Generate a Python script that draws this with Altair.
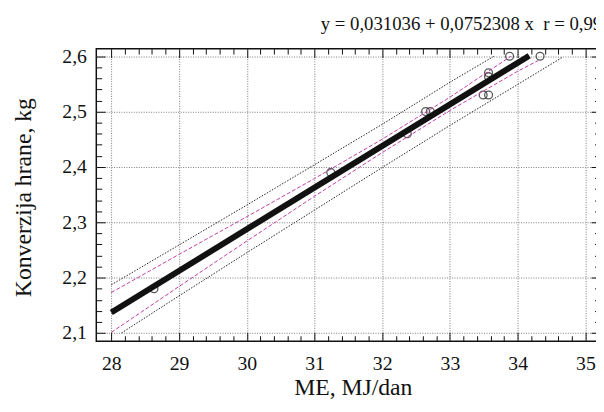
import altair as alt
import pandas as pd

FONT = "Liberation Serif"

# ---- data ----
pt_x = [28.63, 31.24, 32.37, 32.64, 32.71, 33.49, 33.57, 33.57, 33.57, 33.88, 34.33]
pt_y = [2.18, 2.39, 2.46, 2.50, 2.50, 2.53, 2.53, 2.57, 2.563, 2.60, 2.60]

fit_x = [28.0, 34.17]
fit_y = [2.137, 2.601]

conf_up_x = [28.0, 29.0, 30.0, 31.0, 32.0, 33.0, 33.9]
conf_up_y = [2.173, 2.242, 2.310, 2.379, 2.450, 2.526, 2.600]
conf_lo_x = [28.0, 29.0, 30.0, 31.0, 32.0, 33.0, 34.0, 34.3]
conf_lo_y = [2.101, 2.184, 2.266, 2.347, 2.426, 2.502, 2.573, 2.592]

pred_up_x = [28.0, 29.0, 30.0, 31.0, 32.0, 33.0, 33.65]
pred_up_y = [2.187, 2.259, 2.331, 2.404, 2.477, 2.553, 2.600]
pred_lo_x = [28.15, 29.0, 30.0, 31.0, 32.0, 33.0, 34.0, 34.66]
pred_lo_y = [2.100, 2.167, 2.245, 2.322, 2.399, 2.475, 2.549, 2.598]

x_major = [28, 29, 30, 31, 32, 33, 34, 35]
x_minor = [round(28 + 0.2 * i, 1) for i in range(36) if i % 5]
y_major = [2.1, 2.2, 2.3, 2.4, 2.5, 2.6]
y_minor = [round(2.1 + 0.02 * i, 2) for i in range(26) if i % 5]

title_text = "y = 0,031036 + 0,0752308 x\u00a0\u00a0r = 0,99334"
x_title = "ME, MJ/dan"
y_title = "Konverzija hrane, kg"

# ---- tables ----
points = pd.DataFrame({"x": pt_x, "y": pt_y})
fit = pd.DataFrame({"x": fit_x, "y": fit_y})
conf = pd.concat([
    pd.DataFrame({"x": conf_up_x, "y": conf_up_y, "part": "upper"}),
    pd.DataFrame({"x": conf_lo_x, "y": conf_lo_y, "part": "lower"}),
])
pred = pd.concat([
    pd.DataFrame({"x": pred_up_x, "y": pred_up_y, "part": "upper"}),
    pd.DataFrame({"x": pred_lo_x, "y": pred_lo_y, "part": "lower"}),
])

x_scale = alt.Scale(domain=[27.7786, 35.2141], nice=False, zero=False)
y_scale = alt.Scale(domain=[2.0852, 2.6137], nice=False, zero=False)

TICK = "#111111"
MAJ, MIN = 9, 5.5


def tick_axis(orient, values, size):
    return alt.Axis(orient=orient, values=values, offset=-size, tickSize=size,
                    tickColor=TICK, tickWidth=1, domain=False, grid=False,
                    labels=False, title=None)


ax_bottom = alt.Axis(
    orient="bottom", values=x_major, offset=-MAJ, tickSize=MAJ, tickColor=TICK,
    tickWidth=1, domain=False, grid=True, gridColor="#7a7a7a", gridDash=[1, 1.5],
    gridWidth=1, labelFont=FONT, labelFontSize=20, labelColor="#111",
    labelPadding=29, labelBaseline="alphabetic", labelFlush=False,
    labelOverlap=False, title=x_title, titleFont=FONT, titleFontSize=24,
    titleFontWeight="normal", titleColor="#111", titleX=260, titleY=63,
    titleBaseline="alphabetic")

ax_left = alt.Axis(
    orient="left", values=y_major, offset=-MAJ, tickSize=MAJ, tickColor=TICK,
    tickWidth=1, domain=False, grid=True, gridColor="#7a7a7a", gridDash=[1, 1.5],
    gridWidth=1, labelFont=FONT, labelFontSize=20, labelColor="#111",
    labelPadding=10, labelBaseline="middle", labelFlush=False,
    labelOverlap=False,
    labelExpr="replace(format(datum.value, '.1f'), '.', ',')",
    title=y_title, titleFont=FONT, titleFontSize=24, titleFontWeight="normal",
    titleColor="#111", titleAngle=270, titleX=-75.5, titleY=150.5,
    titleBaseline="alphabetic")

pts = alt.Chart(points).mark_point(
    shape="circle", filled=False, size=64, color="#111", strokeWidth=1.3
).encode(
    x=alt.X("x:Q", scale=x_scale, axis=ax_bottom),
    y=alt.Y("y:Q", scale=y_scale, axis=ax_left),
)

pred_l = alt.Chart(pred).mark_line(
    color="#222", strokeWidth=1, strokeDash=[1.5, 1.5]
).encode(
    x=alt.X("x:Q", scale=x_scale, axis=tick_axis("bottom", x_minor, MIN)),
    y=alt.Y("y:Q", scale=y_scale, axis=tick_axis("left", y_minor, MIN)),
    detail="part:N",
)

conf_l = alt.Chart(conf).mark_line(
    color="#c23ea6", strokeWidth=1, strokeDash=[4, 2]
).encode(
    x=alt.X("x:Q", scale=x_scale, axis=tick_axis("top", x_major, MAJ)),
    y=alt.Y("y:Q", scale=y_scale, axis=tick_axis("right", y_major, MAJ)),
    detail="part:N",
)

fit_l = alt.Chart(fit).mark_line(
    color="#111", strokeWidth=6, strokeCap="butt"
).encode(
    x=alt.X("x:Q", scale=x_scale, axis=tick_axis("top", x_minor, MIN)),
    y=alt.Y("y:Q", scale=y_scale, axis=tick_axis("right", y_minor, MIN)),
)

chart = alt.layer(pts, pred_l, conf_l, fit_l).resolve_axis(
    x="independent", y="independent"
).properties(
    width=510.5,
    height=296.5,
    padding={"left": 89.5, "top": 38.5, "right": -4, "bottom": 61},
    autosize=alt.AutoSizeParams(type="none"),
    title=alt.TitleParams(
        text=title_text, anchor="start", frame="group", dx=227.5,
        font=FONT, fontSize=19, fontWeight="normal", color="#111",
        baseline="alphabetic", offset=-4.5,
    ),
).configure_view(
    stroke="#111", strokeWidth=1.5
).configure_axis(
    labelFont=FONT, titleFont=FONT
)

chart.save("out.html", embed_options={"renderer": "svg", "actions": False})
